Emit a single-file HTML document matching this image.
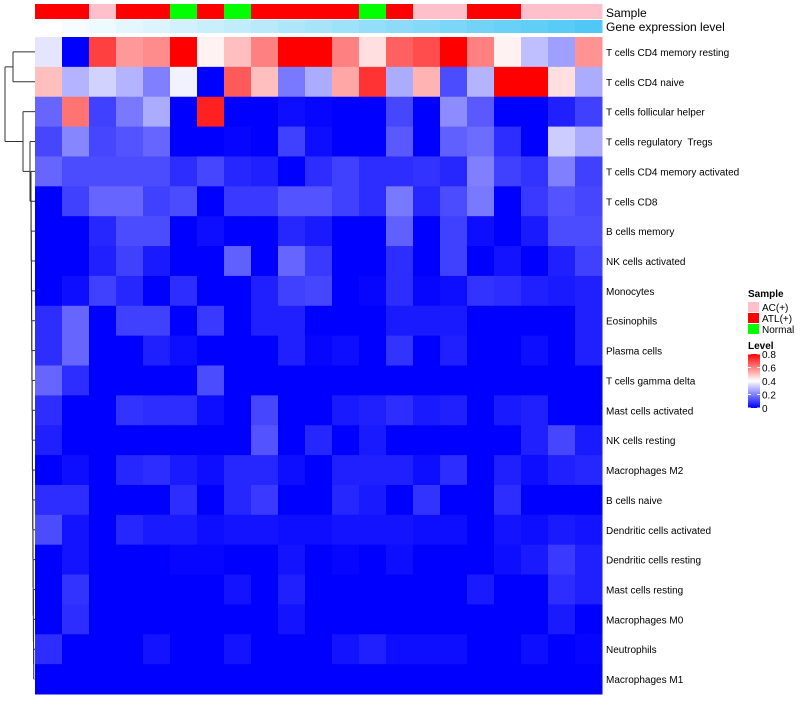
<!DOCTYPE html>
<html><head><meta charset="utf-8">
<style>
body{margin:0;background:#fff;font-family:"Liberation Sans",sans-serif;}
svg text{font-family:"Liberation Sans",sans-serif;white-space:pre;}
</style></head>
<body>
<svg id="chart" width="800" height="700" xmlns="http://www.w3.org/2000/svg"></svg>
<script>
const rowLabels=["T cells CD4 memory resting","T cells CD4 naive","T cells follicular helper","T cells regulatory  Tregs","T cells CD4 memory activated","T cells CD8","B cells memory","NK cells activated","Monocytes","Eosinophils","Plasma cells","T cells gamma delta","Mast cells activated","NK cells resting","Macrophages M2","B cells naive","Dendritic cells activated","Dendritic cells resting","Mast cells resting","Macrophages M0","Neutrophils","Macrophages M1"];
const sampleGroups=["ATL(+)","ATL(+)","AC(+)","ATL(+)","ATL(+)","Normal","ATL(+)","Normal","ATL(+)","ATL(+)","ATL(+)","ATL(+)","Normal","ATL(+)","AC(+)","AC(+)","ATL(+)","ATL(+)","AC(+)","AC(+)","AC(+)"];
const geneLevel=[0,0.05,0.1,0.15,0.2,0.25,0.3,0.35,0.4,0.45,0.5,0.55,0.6,0.65,0.7,0.75,0.8,0.85,0.9,0.95,1];
const values=[
[.36,0,.7,.56,.58,.8,.42,.5,.6,.8,.8,.6,.45,.65,.68,.8,.6,.42,.3,.25,.57],
[.5,.28,.33,.28,.2,.38,0,.66,.5,.19,.27,.54,.72,.27,.52,.12,.28,.8,.8,.45,.27],
[.16,.62,.1,.19,.27,0,.75,0,0,.02,.01,0,0,.11,0,.22,.14,0,0,.05,.1],
[.11,.21,.11,.13,.16,0,0,.01,0,.1,.02,0,0,.14,0,.15,.17,.07,0,.32,.27],
[.16,.12,.12,.12,.12,.07,.11,.06,.05,0,.07,.1,.07,.07,.08,.06,.2,.1,.08,.2,.1],
[0,.1,.16,.16,.1,.12,0,.09,.09,.13,.13,.1,.07,.19,.06,.12,.19,0,.09,.13,.11],
[0,0,.06,.12,.12,0,.02,0,0,.06,.04,0,0,.15,0,.1,.02,0,.04,.12,.12],
[0,0,.05,.1,.04,0,0,.15,0,.16,.09,0,0,.07,0,.1,0,.03,0,.05,.1],
[0,.02,.1,.06,0,.07,0,0,.05,.1,.11,0,.01,.07,.01,.02,.08,.07,.05,.04,.05],
[.07,.16,0,.1,.1,0,.09,0,.05,.05,0,0,0,.04,.04,.04,0,0,0,0,.05],
[.07,.16,0,0,.05,.02,0,0,0,.05,.01,.02,0,.08,0,.05,0,0,.02,0,.05],
[.16,.07,0,0,0,0,.12,0,0,0,0,0,0,0,0,0,0,0,0,0,0],
[.07,0,0,.08,.07,.07,.02,0,.11,0,0,.04,.05,.07,.04,.05,0,.04,.05,0,0],
[.05,0,0,0,0,0,0,0,.13,0,.06,0,.04,0,0,0,0,0,.05,.11,.04],
[0,.02,0,.06,.07,.04,.02,.06,.06,.02,0,.05,.05,.05,.02,.07,0,.05,.02,.05,.06],
[.07,.07,0,0,0,.07,0,.06,.09,0,0,.06,.04,0,.08,0,0,.07,0,0,0],
[.12,.03,0,.06,.04,.04,.02,.03,.03,.02,.02,.03,.03,.03,.02,.02,0,.03,.02,.04,.03],
[0,.03,0,0,0,.01,.01,0,0,.03,0,.01,0,.02,0,0,0,.02,.04,.09,.05],
[0,.08,0,0,0,0,0,.03,0,.05,0,0,0,0,0,0,.04,0,0,.07,.05],
[0,.07,0,0,0,0,0,0,0,.03,0,0,0,0,0,0,0,0,0,.04,0],
[.07,0,0,0,.03,0,0,.03,0,0,0,.03,.05,.02,.02,.02,0,0,.02,0,.01],
[0,0,0,0,0,0,0,0,0,0,0,0,0,0,0,0,0,0,0,0,0]
];
const legendTicks=[0,0.2,0.4,0.6,0.8];
const groupNames=["AC(+)","ATL(+)","Normal"];
const groupColors={"AC(+)":"#FFC0CB","ATL(+)":"#FF0000","Normal":"#00FF00"};

const NS="http://www.w3.org/2000/svg";
const svg=document.getElementById('chart');
function mk(tag,attrs,parent){const e=document.createElementNS(NS,tag);for(const k in attrs)e.setAttribute(k,attrs[k]);(parent||svg).appendChild(e);return e;}
const X0=35,X1=602,Y0=37,Y1=694;
const nC=values[0].length,nR=values.length;
const cw=(X1-X0)/nC,rh=(Y1-Y0)/nR;
const xPos=i=>X0+i*cw, yPos=j=>Y0+j*rh;
function colorFor(v){v=Math.max(0,Math.min(0.8,v));
 if(v<=0.4){const r=Math.round(255*v/0.4);return `rgb(${r},${r},255)`;}
 const g=Math.round(255*(0.8-v)/0.4);return `rgb(255,${g},${g})`;}
function geneColor(t){const r=Math.round(255+(79-255)*t),g=Math.round(255+(200-255)*t),b=Math.round(255+(245-255)*t);return `rgb(${r},${g},${b})`;}

sampleGroups.forEach((s,i)=>{
 const r=mk('rect',{x:xPos(i),y:4,width:cw+0.5,height:15,fill:groupColors[s]});
 
 
});
geneLevel.forEach((g,i)=>{
 const r=mk('rect',{x:xPos(i),y:20,width:cw+0.5,height:13,fill:geneColor(g)});
 
 
});
let tt=mk('text',{x:606,y:17,'font-size':12,fill:'#000'});tt.textContent='Sample';


tt=mk('text',{x:606,y:31,'font-size':12,fill:'#000'});tt.textContent='Gene expression level';



values.forEach((row,j)=>row.forEach((v,i)=>{
 const r=mk('rect',{x:xPos(i),y:yPos(j),width:cw+0.5,height:rh+0.5,fill:colorFor(v)});
 
 
}));
rowLabels.forEach((l,j)=>{
 const e=mk('text',{x:606,y:yPos(j)+rh/2+4,'font-size':10,fill:'#000'});e.textContent=l;
 
 
});

const dg=mk('g',{stroke:'#333','stroke-width':1,fill:'none'});


const yc=j=>yPos(j)+rh/2;
function seg(x1,y1,x2,y2){mk('line',{x1:x1,y1:y1,x2:x2,y2:y2},dg);}
seg(13,yc(0),35,yc(0));seg(13,yc(1),35,yc(1));seg(13,yc(0),13,yc(1));
const topY=(yc(0)+yc(1))/2;
seg(5,topY,13,topY);
seg(23,yc(2),35,yc(2));
seg(30,yc(3),35,yc(3));
let prevY=yc(nR-1),prevX=34.5;
for(let j=nR-2;j>=4;j--){const x=Math.min(34,31+(j-4)*0.17);seg(x,yc(j),35,yc(j));seg(x,yc(j),x,prevY);seg(x,prevY,prevX,prevY);const m=(yc(j)+prevY)/2;prevY=m;prevX=x;}
seg(30,yc(3),30,prevY);seg(30,prevY,prevX,prevY);
const m2=(yc(3)+prevY)/2;
seg(23,yc(2),23,m2);seg(23,m2,30,m2);
const m3=(yc(2)+m2)/2;
seg(5,topY,5,m3);seg(5,m3,23,m3);

tt=mk('text',{x:748,y:297,'font-size':10,'font-weight':'bold'});tt.textContent='Sample';


groupNames.forEach((g,k)=>{
 const r=mk('rect',{x:748,y:302+k*11,width:11,height:10,fill:groupColors[g]});
 
 
 const tx=mk('text',{x:762,y:311+k*11,'font-size':10});tx.textContent=g;
 
 
});
tt=mk('text',{x:748,y:349,'font-size':10,'font-weight':'bold'});tt.textContent='Level';


const defs=mk('defs',{});
const lg=mk('linearGradient',{id:'lg',x1:0,y1:1,x2:0,y2:0},defs);
mk('stop',{offset:'0','stop-color':'#0000FF'},lg);
mk('stop',{offset:'0.5','stop-color':'#FFFFFF'},lg);
mk('stop',{offset:'1','stop-color':'#FF0000'},lg);
const LB0=408,LB1=354;
const cb=mk('rect',{x:748,y:LB1,width:12,height:LB0-LB1,fill:'url(#lg)'});


legendTicks.forEach(v=>{
 const y=LB0-(v/0.8)*(LB0-LB1);
 mk('line',{x1:748,y1:y,x2:751,y2:y,stroke:'#fff'});mk('line',{x1:757,y1:y,x2:760,y2:y,stroke:'#fff'});
 const tx=mk('text',{x:762,y:y+4,'font-size':10});tx.textContent=String(v);
 
 
});
</script>
</body></html>
